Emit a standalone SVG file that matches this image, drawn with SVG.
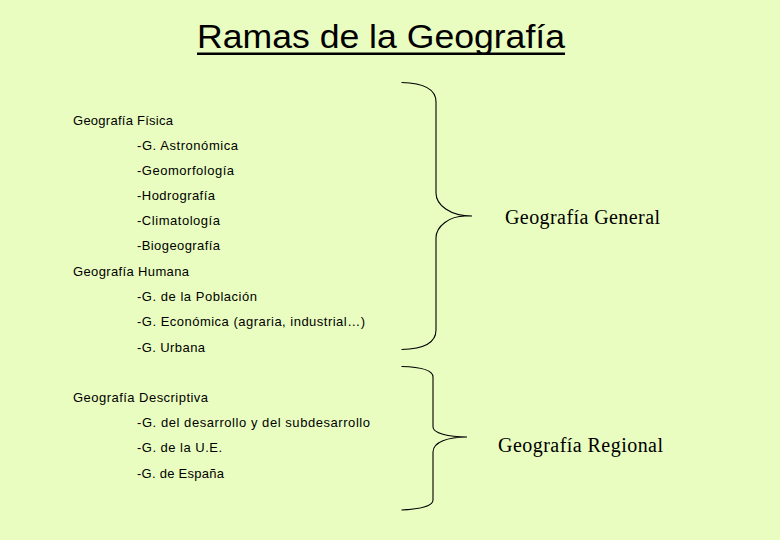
<svg xmlns="http://www.w3.org/2000/svg" width="780" height="540" viewBox="0 0 780 540">
<style>
.t{font-family:"Liberation Sans",Arial,sans-serif;font-size:13px;fill:#000}
.s{font-family:"Liberation Serif","Times New Roman",serif;font-size:20px;fill:#000}
.br{fill:none;stroke:#000;stroke-width:1.1}
</style>
<rect width="780" height="540" fill="#E9FDC0"/>
<g id="title">
<text x="197" y="48" font-family="Liberation Sans,Arial,sans-serif" font-size="34" textLength="368" lengthAdjust="spacingAndGlyphs">Ramas de la Geografía</text>
<rect x="197" y="52.5" width="368" height="2.5" fill="#000"/>
</g>
<g id="list">
<text class="t" x="73" y="125" textLength="100">Geografía Física</text>
<text class="t" x="137" y="150" textLength="101">-G. Astronómica</text>
<text class="t" x="137" y="175" textLength="97">-Geomorfología</text>
<text class="t" x="137" y="200" textLength="78">-Hodrografía</text>
<text class="t" x="137" y="225" textLength="83">-Climatología</text>
<text class="t" x="137" y="250" textLength="83">-Biogeografía</text>
<text class="t" x="73" y="276" textLength="116">Geografía Humana</text>
<text class="t" x="137" y="301" textLength="120">-G. de la Población</text>
<text class="t" x="137" y="326" textLength="228">-G. Económica (agraria, industrial…)</text>
<text class="t" x="137" y="352" textLength="68">-G. Urbana</text>
<text class="t" x="73" y="402" textLength="135">Geografía Descriptiva</text>
<text class="t" x="137" y="427" textLength="233">-G. del desarrollo y del subdesarrollo</text>
<text class="t" x="137" y="452" textLength="85">-G. de la U.E.</text>
<text class="t" x="137" y="478" textLength="87">-G. de España</text>
</g>
<g id="connectors">
<path class="br" d="M401.5,82.5 C425,83 436,90 436,102 L436,193 C436,205 450,216 472,216 L465,216 C450,216 436,226 436,238 L436,330 C436,342 425,349 401.5,349.5"/>
<path class="br" d="M401.5,366.5 C422,367 433,370 433,377 L433,427 C433,433 448,437 467,437 C448,437 433,442 433,452 L433,500 C433,506 422,509 401.5,510"/>
</g>
<g id="general">
<text class="s" x="505" y="224" textLength="155">Geografía General</text>
</g>
<g id="regional">
<text class="s" x="498" y="452" textLength="165">Geografía Regional</text>
</g>
</svg>
